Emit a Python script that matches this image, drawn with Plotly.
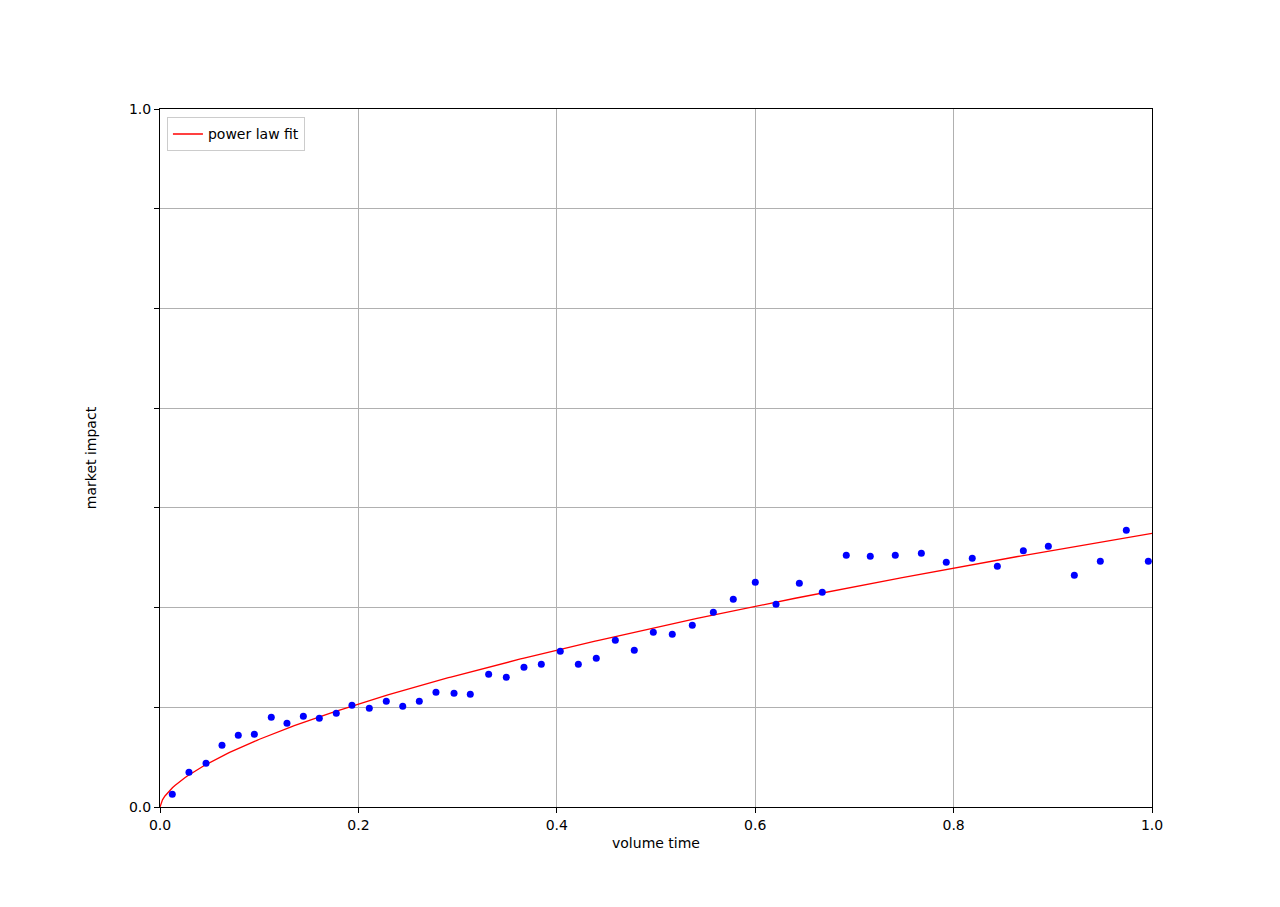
import numpy as np
import plotly.graph_objects as go

# observed points (volume time, market impact)
volume_time = [0.0124, 0.0292, 0.0464, 0.0625, 0.0789, 0.0951, 0.1122, 0.1280, 0.1445, 0.1606,
               0.1777, 0.1935, 0.2110, 0.2281, 0.2447, 0.2614, 0.2782, 0.2964, 0.3128, 0.3313,
               0.3491, 0.3669, 0.3844, 0.4035, 0.4217, 0.4398, 0.4590, 0.4781, 0.4973, 0.5164,
               0.5366, 0.5578, 0.5779, 0.6001, 0.6210, 0.6445, 0.6676, 0.6918, 0.7160, 0.7412,
               0.7675, 0.7926, 0.8188, 0.8441, 0.8703, 0.8955, 0.9217, 0.9479, 0.9741, 0.9963]
market_impact = [0.0182, 0.0497, 0.0626, 0.0884, 0.1027, 0.1042, 0.1285, 0.1199, 0.1299, 0.1271,
                 0.1342, 0.1457, 0.1414, 0.1514, 0.1443, 0.1514, 0.1643, 0.1629, 0.1615, 0.1901,
                 0.1858, 0.2001, 0.2044, 0.2231, 0.2044, 0.2130, 0.2388, 0.2245, 0.2503, 0.2474,
                 0.2603, 0.2789, 0.2976, 0.3219, 0.2904, 0.3205, 0.3076, 0.3606, 0.3592, 0.3606,
                 0.3635, 0.3506, 0.3563, 0.3448, 0.3672, 0.3735, 0.3320, 0.3520, 0.3964, 0.3520]

# power law fit parameters: impact = fit_a * t ** fit_b
fit_a = 0.392
fit_b = 0.607

x_ticks = [0.0, 0.2, 0.4, 0.6, 0.8, 1.0]
x_tick_labels = ["0.0", "0.2", "0.4", "0.6", "0.8", "1.0"]
y_ticks = [k / 7 for k in range(8)]
y_tick_labels = ["0.0", "", "", "", "", "", "", "1.0"]

fit_x = np.linspace(0, 1, 400)
fit_y = fit_a * fit_x ** fit_b

font = dict(family="DejaVu Sans", size=14, color="black")

fig = go.Figure()
fig.add_trace(go.Scatter(x=fit_x, y=fit_y, mode="lines", name="power law fit",
                         line=dict(color="red", width=1.3)))
fig.add_trace(go.Scatter(x=volume_time, y=market_impact, mode="markers", showlegend=False,
                         marker=dict(color="blue", size=7, line=dict(width=0))))

axis_common = dict(showline=True, linecolor="black", linewidth=1, mirror=True,
                   ticks="outside", ticklen=5, tickwidth=1, tickcolor="black",
                   showgrid=True, gridcolor="#b0b0b0", gridwidth=1, zeroline=False,
                   tickfont=font, tickmode="array")

fig.update_xaxes(range=[0, 1], tickvals=x_ticks, ticktext=x_tick_labels,
                 title=dict(text="volume time", font=font, standoff=6), **axis_common)
fig.update_yaxes(range=[0, 1], tickvals=y_ticks, ticktext=y_tick_labels,
                 title=dict(text="market impact", font=font, standoff=29), **axis_common)

fig.update_layout(
    width=1280, height=907,
    margin=dict(l=152, r=136, t=101, b=108),
    paper_bgcolor="white", plot_bgcolor="white",
    font=font,
    showlegend=True,
    legend=dict(x=0.007, y=0.988, xanchor="left", yanchor="top",
                bgcolor="rgba(255,255,255,0.8)", bordercolor="#cccccc", borderwidth=1,
                font=font),
)

fig.write_html("out.html")
